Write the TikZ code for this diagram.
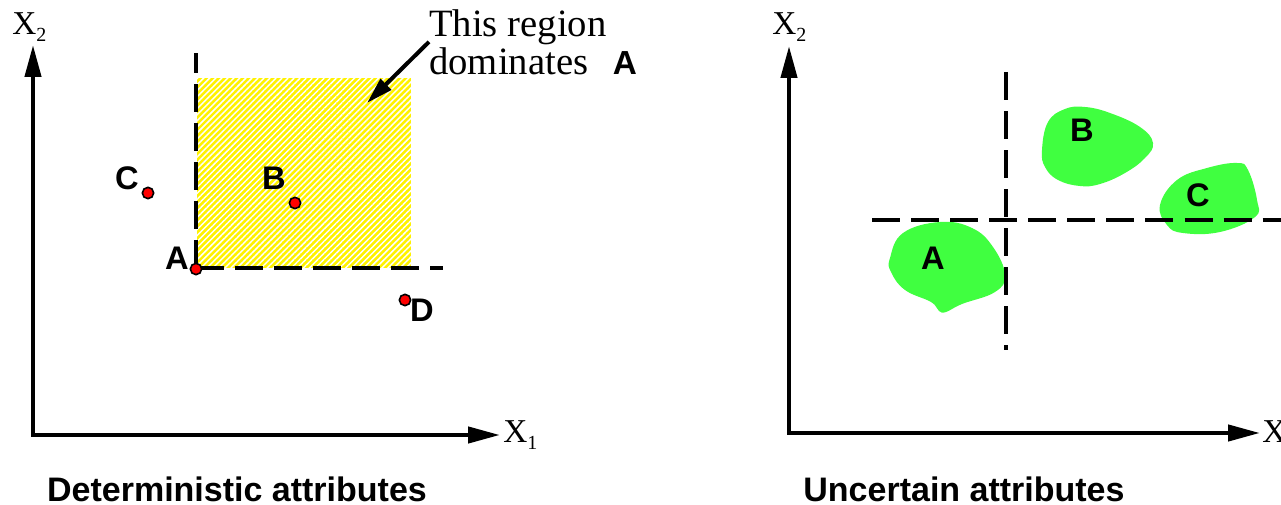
\documentclass[tikz,border=0pt]{standalone}
\usepackage{fontspec}
\setmainfont{Liberation Serif}
\setsansfont{Liberation Sans}
\usetikzlibrary{arrows.meta,patterns.meta}
\definecolor{blobgreen}{RGB}{64,255,64}
\newcommand{\axsub}[1]{\raisebox{-5pt}{\fontsize{15}{15}\selectfont #1}}

\begin{document}
\begin{tikzpicture}[x=0.75pt,y=-0.75pt,>={Triangle[length=24pt,width=12pt]}]
  \tikzset{
    axis/.style={line width=3.2pt},
    guide/.style={line width=3.5pt,dash pattern=on 21pt off 8.3pt},
    sample/.style={circle,draw=black,fill=red,line width=1.2pt,minimum size=8.5pt,inner sep=0pt},
    letter/.style={font=\sffamily\bfseries\fontsize{24.5}{24.5}\selectfont,inner sep=0pt},
    axlabel/.style={font=\fontsize{25}{25}\selectfont,inner sep=0pt,anchor=base west},
    caption/.style={font=\sffamily\bfseries\fontsize{25.5}{25.5}\selectfont,inner sep=0pt,anchor=base},
    dominated/.style={fill=yellow,postaction={pattern={Lines[angle=45,distance=3.2pt,line width=1.1pt]},pattern color=white}}
  }
  \useasboundingbox (0,0) rectangle (1281,505);

  % deterministic attributes
  \fill[dominated] (197,78) rectangle (411,268);
  \coordinate (oL) at (33,435);
  \coordinate (ytipL) at (33,45);
  \coordinate (xtipL) at (500,435);
  \draw[axis,<->] (ytipL) -- (oL) -- (xtipL);
  \node[axlabel] (x2L) at (12,35) {X\axsub{2}};
  \node[axlabel] (x1L) at (503,443) {X\axsub{1}};
  \coordinate (gTop) at (196,53);
  \coordinate (gRight) at (443,268);
  \coordinate (gCorner) at (196,268);
  \draw[guide] (gCorner) -- (gTop);
  \draw[guide] (gCorner) -- (gRight);
  \node[sample] (ptA) at (196,269) {};
  \node[sample] (ptB) at (295,203) {};
  \node[sample] (ptC) at (148,193) {};
  \node[sample] (ptD) at (405,300) {};
  \node[letter] (labA) at (177,258) {A};
  \node[letter] (labB) at (274,178) {B};
  \node[letter] (labC) at (127,178) {C};
  \node[letter] (labD) at (422,310) {D};
  \node[font=\fontsize{29}{28.5}\selectfont,align=left,inner sep=0pt,anchor=north west] (region) at (429,9) {This region\\dominates};
  \node[letter,font=\sffamily\bfseries\fontsize{25}{25}\selectfont] (regA) at (625,63) {A};
  \coordinate (dom) at (367,103);
  \draw[line width=3pt,-{Triangle[length=20pt,width=11pt]}] (region.west) -- (dom);
  \node[caption] (capL) at (237,502) {Deterministic attributes};

  % uncertain attributes
  \fill[blobgreen] plot[smooth cycle,tension=0.7] coordinates {(890,258) (903,233) (940,222) (972,228) (993,247) (1005,275) (995,292) (962,304) (946,312) (939,311) (931,302) (905,290) (891,272)};
  \fill[blobgreen] plot[smooth cycle,tension=0.7] coordinates {(1042,150) (1048,122) (1065,109) (1085,107) (1110,113) (1140,127) (1153,143) (1145,158) (1125,173) (1100,184) (1080,186) (1058,180) (1045,167)};
  \fill[blobgreen] plot[smooth cycle,tension=0.7] coordinates {(1160,205) (1177,180) (1207,168) (1237,163) (1248,170) (1257,200) (1255,217) (1220,232) (1183,233) (1167,225)};
  \coordinate (oR) at (789,433);
  \coordinate (ytipR) at (789,46);
  \coordinate (xtipR) at (1260,433);
  \draw[axis,<->] (ytipR) -- (oR) -- (xtipR);
  \node[axlabel] (x2R) at (772,35) {X\axsub{2}};
  \node[axlabel] (x1R) at (1262,443) {X\axsub{1}};
  \coordinate (vTop) at (1006,72);
  \coordinate (vBot) at (1006,350);
  \coordinate (hLeft) at (872,220);
  \coordinate (hRight) at (1295,220);
  \draw[guide] (vTop) -- (vBot);
  \draw[guide] (hLeft) -- (hRight);
  \node[letter] (blobA) at (933,258) {A};
  \node[letter] (blobB) at (1082,130) {B};
  \node[letter] (blobC) at (1198,195) {C};
  \node[caption] (capR) at (964,502) {Uncertain attributes};
\end{tikzpicture}
\end{document}
